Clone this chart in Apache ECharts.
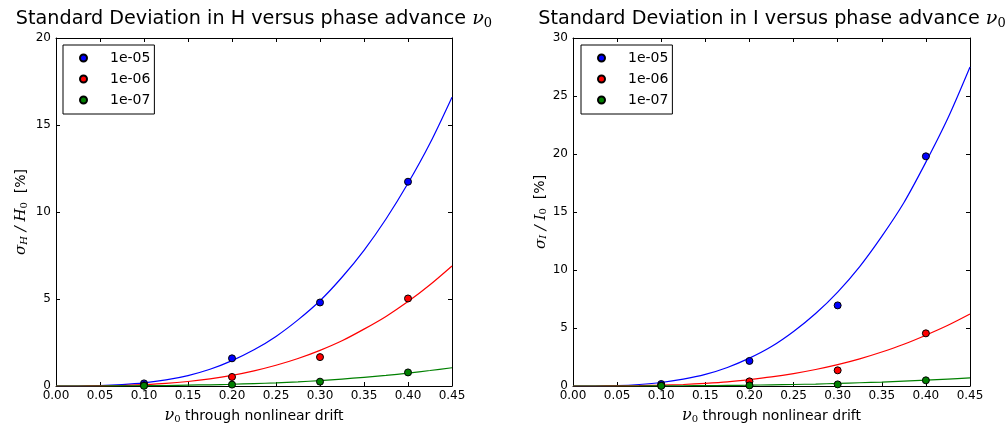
<!DOCTYPE html>
<html>
<head>
<meta charset="utf-8">
<script src="https://cdn.jsdelivr.net/npm/echarts@6/dist/echarts.min.js"></script>
<style>
  html, body { margin: 0; padding: 0; background: #fff; }
  #chart { width: 1006px; height: 425px; }
</style>
</head>
<body>
<div id="chart"></div>
<script>
// measured points
const nu = [0.1, 0.2, 0.3, 0.4];
const hBlue = [0.15, 1.59, 4.8, 11.74];
const hRed = [0.04, 0.52, 1.66, 5.03];
const hGreen = [0.01, 0.08, 0.25, 0.78];
const iBlue = [0.17, 2.16, 6.95, 19.8];
const iRed = [0.03, 0.4, 1.35, 4.54];
const iGreen = [0.01, 0.05, 0.14, 0.49];

// fitted curves
const fitNu = [0, 0.025, 0.05, 0.075, 0.1, 0.125, 0.15, 0.175, 0.2, 0.225,
  0.25, 0.275, 0.3, 0.325, 0.35, 0.375, 0.4, 0.425, 0.45];
const fitHBlue = [0, 0, 0.02, 0.08, 0.18, 0.35, 0.6, 0.96, 1.46, 2.08,
  2.85, 3.8, 4.9, 6.25, 7.8, 9.6, 11.65, 13.95, 16.6];
const fitHRed = [0, 0, 0.01, 0.03, 0.08, 0.15, 0.26, 0.41, 0.61, 0.87,
  1.19, 1.58, 2.05, 2.6, 3.27, 4.0, 4.85, 5.82, 6.9];
const fitHGreen = [0, 0, 0, 0.01, 0.02, 0.03, 0.05, 0.07, 0.1, 0.14,
  0.18, 0.24, 0.31, 0.4, 0.5, 0.61, 0.74, 0.89, 1.05];
const fitIBlue = [0, 0, 0.03, 0.13, 0.3, 0.59, 1.0, 1.6, 2.4, 3.4,
  4.7, 6.25, 8.1, 10.3, 12.9, 15.8, 19.3, 23.1, 27.5];
const fitIRed = [0, 0, 0.01, 0.03, 0.07, 0.13, 0.23, 0.36, 0.55, 0.78,
  1.07, 1.42, 1.84, 2.34, 2.93, 3.6, 4.38, 5.23, 6.2];
const fitIGreen = [0, 0, 0, 0, 0.01, 0.02, 0.03, 0.05, 0.07, 0.1,
  0.13, 0.17, 0.22, 0.28, 0.34, 0.42, 0.5, 0.6, 0.7];

const names = ["1e-05", "1e-06", "1e-07"];
const colors = ["#0000ff", "#ff0000", "#008000"];

const FONT = "DejaVu Sans";
const MATH = "DejaVu Serif";

const pairs = (xs, ys) => xs.map((x, i) => [x, ys[i]]);

let chartDom = document.getElementById("chart");
let myChart = echarts.init(chartDom);

const mathRich = {
  m: { fontFamily: MATH, fontStyle: "italic", fontSize: 15, color: "#000" },
  s: { fontFamily: MATH, fontStyle: "italic", fontSize: 10, color: "#000", padding: [6, 0, 0, 0] },
  z: { fontFamily: MATH, fontSize: 10, color: "#000", padding: [6, 0, 0, 0] },
  t: { fontFamily: FONT, fontSize: 14, color: "#000" },
};

const axisLine = { show: true, onZero: false, lineStyle: { color: "#000", width: 1 } };
const tick = { show: true, inside: true, length: 4, lineStyle: { color: "#000" } };

function xAxes(gridIndex) {
  return [
    {
      gridIndex,
      type: "value",
      min: 0,
      max: 0.45,
      interval: 0.05,
      position: "bottom",
      axisLine,
      axisTick: tick,
      splitLine: { show: false },
      axisLabel: {
        color: "#000",
        fontFamily: FONT,
        fontSize: 12,
        margin: 4,
        formatter: (v) => v.toFixed(2),
      },
      name: "{m|ν}{z|0}{t| through nonlinear drift}",
      nameLocation: "middle",
      nameGap: 22,
      nameTextStyle: { rich: Object.assign({}, mathRich, {
        m: { fontFamily: MATH, fontStyle: "italic", fontSize: 16, color: "#000" },
      }) },
    },
    {
      gridIndex,
      type: "value",
      min: 0,
      max: 0.45,
      interval: 0.05,
      position: "top",
      axisLine,
      axisTick: tick,
      axisLabel: { show: false },
      splitLine: { show: false },
    },
  ];
}

function yAxes(gridIndex, max, label, gap) {
  return [
    {
      gridIndex,
      type: "value",
      min: 0,
      max,
      interval: 5,
      position: "left",
      axisLine,
      axisTick: tick,
      splitLine: { show: false },
      axisLabel: { color: "#000", fontFamily: FONT, fontSize: 12, margin: 5 },
      name: label,
      nameLocation: "middle",
      nameGap: gap,
      nameTextStyle: { rich: mathRich },
    },
    {
      gridIndex,
      type: "value",
      min: 0,
      max,
      interval: 5,
      position: "right",
      axisLine,
      axisTick: tick,
      axisLabel: { show: false },
      splitLine: { show: false },
    },
  ];
}

function legend(left) {
  return {
    left,
    top: 45,
    orient: "vertical",
    data: names,
    borderColor: "#000",
    borderWidth: 1,
    borderRadius: 0,
    padding: [5, 4, 6, 16],
    itemWidth: 7,
    itemHeight: 7,
    itemGap: 5,
    textStyle: { fontFamily: FONT, fontSize: 14, color: "#000", lineHeight: 16, padding: [0, 0, 0, 18] },
  };
}

function title(center, letter) {
  return {
    text: "Standard Deviation in " + letter + " versus phase advance {m|ν}{z|0}",
    left: center,
    textAlign: "center",
    top: 4,
    textStyle: {
      fontFamily: FONT,
      fontSize: 19.2,
      fontWeight: "normal",
      color: "#000",
      rich: {
        m: { fontFamily: MATH, fontStyle: "italic", fontSize: 19.2, color: "#000" },
        z: { fontFamily: MATH, fontSize: 13, color: "#000", padding: [8, 0, 0, 0] },
      },
    },
  };
}

function scatter(name, color, ys, idx) {
  return {
    name,
    type: "scatter",
    xAxisIndex: idx,
    yAxisIndex: idx,
    data: pairs(nu, ys),
    symbolSize: 7,
    itemStyle: { color, borderColor: "#000", borderWidth: 1, opacity: 1 },
    z: 3,
  };
}

function curve(color, ys, idx) {
  return {
    type: "line",
    xAxisIndex: idx,
    yAxisIndex: idx,
    data: pairs(fitNu, ys),
    smooth: 0.3,
    showSymbol: false,
    lineStyle: { color, width: 1.2 },
    silent: true,
    z: 2,
  };
}

const options = {
  animation: false,
  backgroundColor: "#fff",
  title: [title(249, "H"), title(767, "I")],
  legend: [legend(63), legend(581)],
  grid: [
    { left: 56, right: 554, top: 38, bottom: 39, outerBoundsMode: "none" },
    { left: 573, right: 36, top: 38, bottom: 39, outerBoundsMode: "none" },
  ],
  xAxis: [...xAxes(0), ...xAxes(1)],
  yAxis: [
    ...yAxes(0, 20, "{m|σ}{s|H}{m| / H}{z|0}{t|  [%]}", 27),
    ...yAxes(1, 30, "{m|σ}{s|I}{m| / I}{z|0}{t|  [%]}", 24),
  ],
  series: [
    curve(colors[0], fitHBlue, 0),
    curve(colors[1], fitHRed, 0),
    curve(colors[2], fitHGreen, 0),
    scatter(names[0], colors[0], hBlue, 0),
    scatter(names[1], colors[1], hRed, 0),
    scatter(names[2], colors[2], hGreen, 0),
    curve(colors[0], fitIBlue, 2),
    curve(colors[1], fitIRed, 2),
    curve(colors[2], fitIGreen, 2),
    scatter(names[0], colors[0], iBlue, 2),
    scatter(names[1], colors[1], iRed, 2),
    scatter(names[2], colors[2], iGreen, 2),
  ],
};
myChart.setOption(options);
</script>
</body>
</html>
